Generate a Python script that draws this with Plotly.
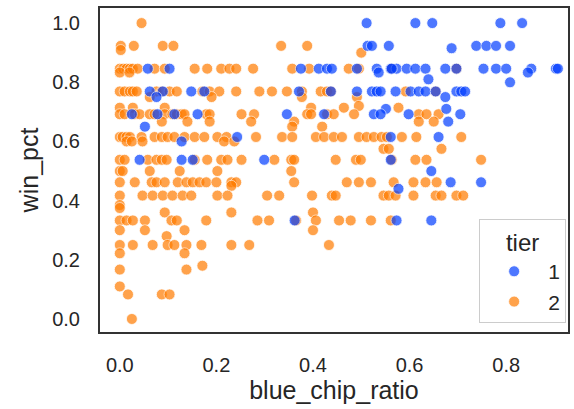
import plotly.graph_objects as go

# ---- data ----
tier1_x = [
    0.511, 0.612, 0.647, 0.788, 0.833,
    0.513, 0.522, 0.557, 0.738, 0.759, 0.779, 0.808,
    0.687,
    0.058, 0.103, 0.375, 0.412, 0.429, 0.439, 0.491, 0.532, 0.561, 0.573, 0.594,
    0.612, 0.633, 0.674, 0.753, 0.779, 0.800, 0.852, 0.903, 0.907, 0.563, 0.697,
    0.536, 0.845,
    0.639, 0.808,
    0.062, 0.089, 0.148, 0.175, 0.371, 0.437, 0.491, 0.522, 0.532, 0.540, 0.571,
    0.602, 0.619, 0.633, 0.654, 0.697, 0.707, 0.715,
    0.076, 0.674,
    0.551, 0.676,
    0.025, 0.078, 0.113, 0.161, 0.346, 0.423, 0.526, 0.540, 0.598, 0.705,
    0.680,
    0.052,
    0.243, 0.561, 0.660,
    0.128,
    0.041, 0.128, 0.151, 0.299, 0.561,
    0.645,
    0.685, 0.748,
    0.577,
    0.362, 0.573, 0.645,
]
tier1_y = (
    [1.0] * 5 + [0.923] * 7 + [0.915] + [0.846] * 22 + [0.833] * 2 + [0.81, 0.80]
    + [0.769] * 18 + [0.75] * 2 + [0.71] * 2 + [0.692] * 10 + [0.667] + [0.65]
    + [0.615] * 3 + [0.60] + [0.538] * 5 + [0.50] + [0.462] * 2 + [0.44]
    + [0.333] * 3
)

tier2_x = [
    0.045,
    0.002, 0.029, 0.089, 0.111, 0.334, 0.388,
    0.002,
    0.500,
    0.000, 0.007, 0.014, 0.021, 0.027, 0.037, 0.072, 0.093, 0.155, 0.181, 0.210,
    0.227, 0.241, 0.276, 0.357, 0.392, 0.474, 0.495, 0.563, 0.697,
    0.000, 0.020,
    0.000, 0.010, 0.021, 0.027, 0.035, 0.076, 0.087, 0.103, 0.118, 0.171, 0.186,
    0.206, 0.241, 0.289, 0.315, 0.346, 0.377, 0.416, 0.429, 0.437, 0.592, 0.654,
    0.062, 0.190, 0.377, 0.491,
    0.495,
    0.000, 0.027, 0.093, 0.396, 0.464, 0.577,
    0.000, 0.010, 0.031, 0.041, 0.062, 0.072, 0.093, 0.109, 0.118, 0.128, 0.134,
    0.179, 0.186, 0.252, 0.278, 0.388, 0.396, 0.429, 0.443, 0.485, 0.619, 0.635,
    0.660,
    0.087, 0.140, 0.186, 0.272, 0.361, 0.619, 0.650,
    0.357, 0.419,
    0.000, 0.006, 0.014, 0.021, 0.045, 0.072, 0.087, 0.099, 0.113, 0.134, 0.155,
    0.175, 0.202, 0.221, 0.282, 0.336, 0.357, 0.406, 0.423, 0.443, 0.460, 0.495,
    0.511, 0.526, 0.542, 0.553, 0.584, 0.614, 0.707,
    0.014, 0.025, 0.047, 0.216, 0.237,
    0.546, 0.557, 0.666,
    0.000, 0.010, 0.058, 0.076, 0.087, 0.097, 0.155, 0.181, 0.210, 0.223, 0.252,
    0.320, 0.355, 0.361, 0.447, 0.489, 0.499, 0.563, 0.612, 0.635, 0.748,
    0.000, 0.006, 0.062, 0.124, 0.202, 0.355,
    0.000, 0.031, 0.066, 0.076, 0.093, 0.120, 0.138, 0.151, 0.165, 0.179, 0.200,
    0.231, 0.241, 0.361, 0.470, 0.495, 0.520, 0.567, 0.608, 0.633, 0.656,
    0.231,
    0.000, 0.047, 0.068, 0.089, 0.109, 0.130, 0.148, 0.202, 0.223, 0.305, 0.330,
    0.398, 0.439, 0.447, 0.546, 0.557, 0.571, 0.608, 0.654, 0.666, 0.697, 0.711,
    0.000, 0.000,
    0.093, 0.231, 0.400,
    0.000, 0.014, 0.027, 0.052, 0.107, 0.118, 0.179, 0.285, 0.309, 0.365, 0.406,
    0.454, 0.478, 0.520, 0.561,
    0.000, 0.052, 0.134, 0.400,
    0.097,
    0.000, 0.027, 0.068, 0.099, 0.113, 0.138, 0.169, 0.231, 0.268, 0.433,
    0.000, 0.134,
    0.171,
    0.000, 0.138,
    0.000,
    0.017, 0.087, 0.103,
    0.025,
]
tier2_y = (
    [1.0] + [0.923] * 6 + [0.909] + [0.90] + [0.846] * 20 + [0.833] * 2
    + [0.769] * 22 + [0.75] * 4 + [0.72] + [0.714] * 6 + [0.692] * 23
    + [0.667] * 7 + [0.65] * 2 + [0.615] * 29 + [0.60] * 5 + [0.575] * 3
    + [0.538] * 21 + [0.50] * 6 + [0.462] * 21 + [0.45] + [0.417] * 22
    + [0.385, 0.375] + [0.36] * 3 + [0.333] * 15 + [0.30] * 4 + [0.28]
    + [0.25] * 10 + [0.222] * 2 + [0.18] + [0.167] * 2 + [0.11] + [0.083] * 3
    + [0.0]
)

tiers = ["1", "2"]
colors = {"1": "#023eff", "2": "#ff7c00"}
x_ticks = [0.0, 0.2, 0.4, 0.6, 0.8]
y_ticks = [0.0, 0.2, 0.4, 0.6, 0.8, 1.0]

FONT = "Liberation Sans, Arial, sans-serif"
TEXT = "#262626"

fig = go.Figure()
for name, xs, ys, rank in [("2", tier2_x, tier2_y, 2), ("1", tier1_x, tier1_y, 1)]:
    fig.add_trace(go.Scatter(
        x=xs, y=ys, mode="markers", name=name, legendrank=rank,
        marker=dict(size=11, color=colors[name], opacity=0.7,
                    line=dict(color="white", width=0.8)),
    ))

axis_common = dict(
    showline=True, mirror=True, linecolor="#333333", linewidth=2,
    showgrid=False, zeroline=False, ticks="",
    tickfont=dict(family=FONT, size=20, color=TEXT),
    ticklabelstandoff=14,
)

fig.update_xaxes(
    range=[-0.041, 0.928], tickvals=x_ticks, ticktext=[f"{v:.1f}" for v in x_ticks],
    title=dict(text="blue_chip_ratio", font=dict(family=FONT, size=25, color=TEXT), standoff=4),
    **axis_common,
)
fig.update_yaxes(
    range=[-0.044, 1.051], tickvals=y_ticks, ticktext=[f"{v:.1f}" for v in y_ticks],
    title=dict(text="win_pct", font=dict(family=FONT, size=25, color=TEXT), standoff=6),
    **axis_common,
)

fig.update_layout(
    width=574, height=409,
    margin=dict(l=100, r=4, t=8, b=77),
    plot_bgcolor="white", paper_bgcolor="white",
    font=dict(family=FONT, color=TEXT),
    showlegend=True,
    legend=dict(
        title=dict(text="tier", side="top center", font=dict(family=FONT, size=24, color=TEXT)),
        font=dict(family=FONT, size=21, color=TEXT),
        x=0.996, xanchor="right", y=0.028, yanchor="bottom",
        bgcolor="rgba(255,255,255,0.8)", bordercolor="#cccccc", borderwidth=1,
        itemwidth=58, tracegroupgap=4,
    ),
)

fig.write_html("out.html", config={"displayModeBar": False},
               post_script="document.body.style.margin='0px';")
